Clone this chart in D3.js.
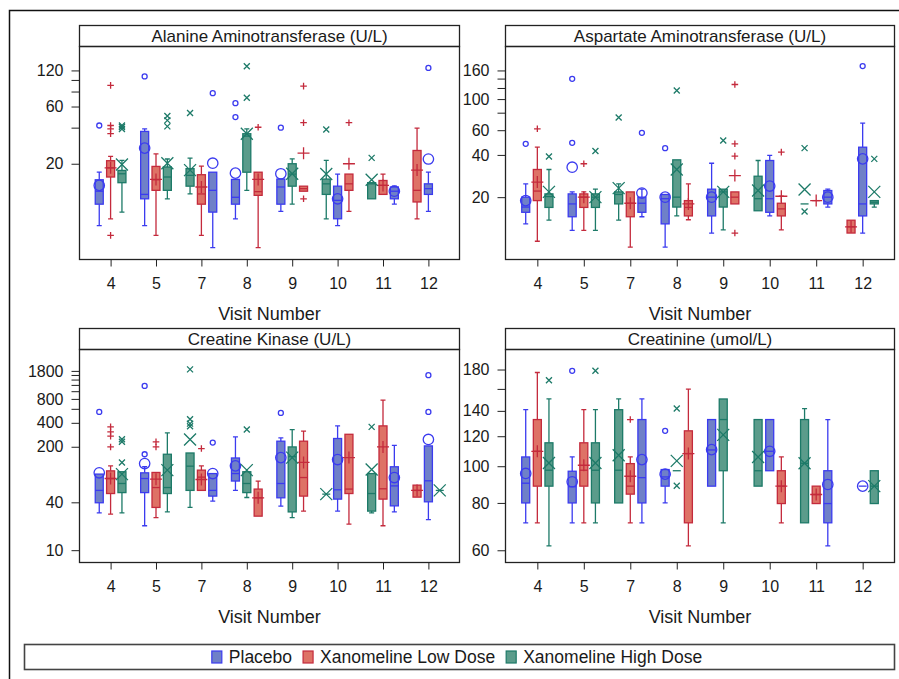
<!DOCTYPE html>
<html>
<head>
<meta charset="utf-8">
<script src="https://cdn.jsdelivr.net/npm/d3@7"></script>
<style>
  body { margin: 0; background: #fff; }
  text { font-family: "Liberation Sans", Arial, sans-serif; fill: #1a1a1a; }
</style>
</head>
<body>
<script>

var visits = ["4", "5", "7", "8", "9", "10", "11", "12"];
var groups = ["Placebo", "Xanomeline Low Dose", "Xanomeline High Dose"];
// order of the groups inside each visit cluster (0 = Placebo, 1 = Low, 2 = High)
var clusterOrder = [[0,1,2], [0,1,2], [2,1,0], [0,2,1], [0,2,1], [2,0,1], [2,1,0], [1,0,2]];

// each entry: [whisker low, Q1, median, Q3, whisker high, mean, [outliers]], null = no data
var altPlacebo = [[6.1,9.2,11.8,14.7,17,13.2,[41.7]], [6.1,10.2,11.1,37.2,39.1,27,[107]], [4,7.9,12,17,17,20.2,[77.6]], [6.95,9.2,10.5,14.8,14.8,16.7,[64,49]],
                  [8,9.2,12.8,14.9,14.9,16.5,[40]], [6.1,6.95,9.9,13,16.4,10.2,[]], [9.2,10.2,11.8,12.8,13,11.8,[]], [8,11.1,12.4,13.6,17,21.9,[126]]];
var altLow = [[6.95,15.5,18.5,21.2,23,18.5,[90,41.7,39.1,35.6,5.05]], [5.05,12,14.7,19,24.2,14.8,[]], [5.05,9.2,11.2,16.2,19.1,12.8,[]], [4,10.9,11.7,17,17,14.8,[40.3]],
              [11.8,11.8,12.4,13,13,24.5,[88.7,44,10.2]], [8,12,13.6,16.4,16.4,20,[44]], [11.1,11.1,13.2,14.5,16.4,13.2,[]], [6.95,9.6,12,25.8,39.6,17.7,[]]];
var altHigh = [[7.9,13.9,16.5,17.6,21.3,19.7,[41.7,40.5,39]], [10.2,12,15.5,18.8,21.9,20.2,[50,46,41]], [11.2,13,16,18.2,22.3,17.7,[53]], [12,17,34,35.6,39,35.6,[130,71]],
               [9.2,13,16.4,20,22,16.5,[]], [6.95,11.1,13.6,14.9,21.3,16.4,[38.6]], [10.2,10.2,13.6,13.9,13.9,14.7,[22.4]], null];

var astPlacebo = [[12.9,15.6,17,20,24.9,18.9,[48]], [11.6,14.5,17.9,21.1,21.8,32.7,[139.5,48.8]], [14.5,15.6,18.1,20,22.8,21.4,[57.5]], [8.8,12.9,19.5,20.9,20.9,20,[44.7]],
                  [11.1,14.7,20,22.8,34.9,20,[]], [14.7,15.6,19.5,36.5,39.7,24,[]], [17,17.9,20,22.3,22.8,20,[]], [11.1,14.7,17.9,45.4,67.4,37.5,[171.8]]];
var astLow = [[9.7,18.9,22.1,31.5,45.4,25.6,[61.4]], [11.6,16.9,20,21.1,21.8,20,[34.6]], [8.8,14.5,18.1,21.8,21.8,18.1,[]], [13.8,14.7,16.9,18.9,24.9,17.9,[]],
              [17.9,17.9,20,21.8,21.8,28.5,[127,48,39.2,11.1]], [11.7,14.7,16.5,18.1,20.3,20.3,[41.9]], [18.9,18.9,18.9,18.9,18.9,18.9,[]], [11.1,11.1,12.3,13.7,13.7,12.3,[]]];
var astHigh = [[13.7,16.9,20.2,21.1,31.5,21.8,[39]], [11.6,16.9,20,21.1,22.8,20,[42.6]], [13.7,17.9,20.9,21.8,24.9,23.2,[74]], [14.7,17,20,36.9,36.9,31.5,[115]],
               [11.7,17,21.8,22.8,22.8,21.8,[50.7]], [16,16,19.5,28.2,36.5,22.3,[]], [17.9,17.9,17.9,17.9,17.9,22.7,[44.7,15.8]], [17,17.9,18.4,18.9,18.9,21.8,[37.5]]];

var ckPlacebo = [[29.5,39.5,56.5,90.6,90.6,94,[549]], [20.3,53,79.7,94,112,123,[1166,161]], [41.4,47.9,56.5,92,92,92,[226]], [56.5,74.1,92,144.5,267,115,[]],
                 [35.8,45.6,69,235,259,146,[533]], [31,43.9,57.5,254,366,138,[]], [30.3,36.1,64.4,112,208,82,[]], [24.3,40.6,74.6,205,205,247,[1590,549]]];
var ckLow = [[28.4,51.6,79.7,99.5,115,79.7,[356,308,272,199]], [25.7,34.5,61.4,95,95,78.3,[231,199]], [56.5,56.5,83,101.6,115,77.5,[190]], [26.8,26.8,45.6,58.7,73.8,45.6,[]],
             [31,47.9,82,235,314,127,[]], [21.3,51.6,58.7,287,287,146,[]], [20.3,43.9,59.2,366,770,199,[]], [46.5,46.5,56.5,65.8,65.8,56.5,[]]];
var ckHigh = [[29.5,53,69,97,97,90.6,[249,231,127]], [30.3,51.6,61.4,161,299,101.6,[]], [34.5,56.5,114,167,167,247,[1880,443,391,363]], [46,53,69,97,97,101.6,[329]],
              [25.7,30.3,150,199,329,146,[]], [50.7,50.7,50.7,50.7,50.7,50.7,[]], [29.5,31,51.6,92,92,103.6,[356]], [56.5,56.5,56.5,56.5,56.5,56.5,[]]];

var crPlacebo = [[70.9,80,90.2,105.8,141,95.7,[]], [70.9,80,88.3,97,105.8,91,[178.6]], [70.9,80,93.3,132.8,150.5,104.1,[]], [80,88.6,93.7,98,98,95.3,[124]],
                 [88.6,88.6,110.4,132.8,132.8,110.6,[]], [97.3,97.3,109.5,132.8,132.8,109.5,[]], [61.6,70.9,79.7,97.3,132.8,89.5,[]], [88.6,88.6,88.6,88.6,88.6,88.6,[]]];
var crLow = [[70.9,88.6,109.5,132.8,176.8,109.5,[]], [70.9,88.6,97.6,115.3,141,100.6,[]], [70.9,84.4,88.6,101.6,105.8,94.1,[132.8]], [61.6,70.9,108,124,159.8,108,[]],
             null, [70.9,79.7,88.6,97.3,105.8,88.6,[]], [79.7,79.7,84.2,88.6,88.6,84.2,[]], null];
var crHigh = [[61.6,88.6,97.6,115.3,150.5,102,[168.7]], [70.9,80,97.6,115.3,141,102,[178.6]], [80,80,97.6,141,150.5,106.9,[]], [97.3,97.3,97.3,97.3,97.3,103.3,[142,88.8]],
              [70.9,97.3,132.8,150.5,150.5,121,[]], [88.6,88.6,97.3,132.8,132.8,105.8,[]], [70.9,70.9,101.8,132.8,142,101.8,[]], [79.7,79.7,88.6,97.3,97.3,88.6,[]]];

var titles = ["Alanine Aminotransferase (U/L)", "Aspartate Aminotransferase (U/L)", "Creatine Kinase (U/L)", "Creatinine (umol/L)"];
var majorTicks = [[20, 60, 120], [20, 40, 60, 100, 160], [10, 40, 200, 400, 800, 1800], [60, 80, 100, 120, 140, 180]];
var minorTicks = [[40, 80, 100], [80, 120, 140], [600, 1000, 1200, 1400, 1600], [160]];
var axisRange = [[3.18, 190], [7.19, 237], [7.0, 3345], [55.7, 203.3]];

var panels = [
  {title: titles[0], data: [altPlacebo, altLow, altHigh]},
  {title: titles[1], data: [astPlacebo, astLow, astHigh]},
  {title: titles[2], data: [ckPlacebo, ckLow, ckHigh]},
  {title: titles[3], data: [crPlacebo, crLow, crHigh]}
];

var lineColor = ["#3b3bef", "#c42a3c", "#1d7a68"];
var fillColor = ["#6f80c8", "#de7266", "#5b9c8b"];
var font = "'Liberation Sans', Arial, sans-serif";

var svgWidth = 899, svgHeight = 679;
var svg = d3.select("body").append("svg").attr("width", svgWidth).attr("height", svgHeight);

// outer frame
svg.append("rect").attr("x", 9.5).attr("y", 10.5).attr("width", svgWidth).attr("height", svgHeight)
    .attr("fill", "none").attr("stroke", "#111").attr("stroke-width", 1.5);

function markerPath(gi, cx, cy, s) {
  if (gi === 1) return "M" + (cx - s) + "," + cy + "H" + (cx + s) + "M" + cx + "," + (cy - s) + "V" + (cy + s);
  return "M" + (cx - s) + "," + (cy - s) + "L" + (cx + s) + "," + (cy + s) + "M" + (cx - s) + "," + (cy + s) + "L" + (cx + s) + "," + (cy - s);
}

panels.forEach(function(p, i) {
  var col = i % 2, row = Math.floor(i / 2);
  var left = col ? 505.5 : 79.5, right = col ? 894.5 : 459.5;
  var top = row ? 328.5 : 25.5, head = 21, bottom = row ? 562.5 : 259.5;

  var x = d3.scalePoint().domain(visits).range([left, right]).padding(0.685);
  var y = d3.scaleLog().domain(axisRange[i]).range([bottom, top + head]);
  var off = x.step() / 4, bw = 8, cap = 2.5;

  var g = svg.append("g");

  // header strip and plot frame
  g.append("rect").attr("x", left).attr("y", top).attr("width", right - left).attr("height", head)
      .attr("fill", "#fff").attr("stroke", "#222").attr("stroke-width", 1.3);
  g.append("text").attr("x", (left + right) / 2).attr("y", top + head / 2 + 5.5)
      .attr("text-anchor", "middle").attr("font-size", 17).text(p.title);
  g.append("rect").attr("x", left).attr("y", top + head).attr("width", right - left).attr("height", bottom - top - head)
      .attr("fill", "none").attr("stroke", "#222").attr("stroke-width", 1.3);

  // axes
  var major = majorTicks[i];
  var yAxis = d3.axisLeft(y).tickValues(major.concat(minorTicks[i])).tickSize(8).tickPadding(8)
      .tickFormat(function(d) { return major.indexOf(d) >= 0 ? d : ""; });
  g.append("g").attr("transform", "translate(" + left + ",0)").call(yAxis)
      .attr("font-family", font).attr("font-size", 16)
      .call(function(a) { a.select(".domain").remove(); a.selectAll("line").attr("stroke", "#222"); });

  var xAxis = d3.axisBottom(x).tickSize(7).tickPadding(11);
  g.append("g").attr("transform", "translate(0," + bottom + ")").call(xAxis)
      .attr("font-family", font).attr("font-size", 16)
      .call(function(a) { a.select(".domain").remove(); a.selectAll("line").attr("stroke", "#222"); });

  g.append("text").attr("x", (left + right) / 2).attr("y", bottom + 60)
      .attr("text-anchor", "middle").attr("font-size", 18).text("Visit Number");

  // flatten the boxes of this panel
  var boxes = [];
  p.data.forEach(function(series, gi) {
    series.forEach(function(s, vi) {
      if (s) boxes.push({gi: gi, visit: visits[vi], slot: clusterOrder[vi].indexOf(gi), s: s});
    });
  });
  var cx = function(b) { return x(b.visit) + (b.slot - 1) * off; };

  var bg = g.selectAll(".box").data(boxes).enter().append("g").attr("class", "box")
      .attr("stroke", function(b) { return lineColor[b.gi]; })
      .attr("stroke-width", 1.3).attr("fill", "none");

  // whiskers
  bg.append("path").attr("d", function(b) {
    var c = cx(b), s = b.s, d = "";
    if (s[0] < s[1]) d += "M" + c + "," + y(s[0]) + "V" + y(s[1]) + "M" + (c - cap) + "," + y(s[0]) + "H" + (c + cap);
    if (s[4] > s[3]) d += "M" + c + "," + y(s[3]) + "V" + y(s[4]) + "M" + (c - cap) + "," + y(s[4]) + "H" + (c + cap);
    return d || null;
  });

  // box
  bg.append("rect")
      .attr("x", function(b) { return cx(b) - bw / 2; })
      .attr("y", function(b) { return y(b.s[3]); })
      .attr("width", bw)
      .attr("height", function(b) { return y(b.s[1]) - y(b.s[3]); })
      .attr("fill", function(b) { return fillColor[b.gi]; });

  // median
  bg.append("path").attr("d", function(b) {
    return "M" + (cx(b) - bw / 2) + "," + y(b.s[2]) + "H" + (cx(b) + bw / 2);
  });

  // mean and outliers
  bg.each(function(b) {
    var sel = d3.select(this), c = cx(b), m = y(b.s[5]);
    if (b.gi === 0) sel.append("circle").attr("cx", c).attr("cy", m).attr("r", 5.2);
    else sel.append("path").attr("d", markerPath(b.gi, c, m, b.gi === 1 ? 6 : 6));
    b.s[6].forEach(function(v) {
      if (b.gi === 0) sel.append("circle").attr("cx", c).attr("cy", y(v)).attr("r", 2.5);
      else sel.append("path").attr("d", markerPath(b.gi, c, y(v), b.gi === 1 ? 3.3 : 3));
    });
  });
});

// legend
svg.append("rect").attr("x", 24.5).attr("y", 644.5).attr("width", 870).attr("height", 25)
    .attr("fill", "#fff").attr("stroke", "#444").attr("stroke-width", 1.6);

var lg = svg.append("g");
var items = lg.selectAll(".item").data(groups).enter().append("g").attr("class", "item");
items.append("rect").attr("x", 0).attr("y", -12).attr("width", 10).attr("height", 12)
    .attr("fill", function(d, k) { return fillColor[k]; })
    .attr("stroke", function(d, k) { return lineColor[k]; }).attr("stroke-width", 1.2);
items.append("text").attr("x", 17).attr("y", 0).attr("font-size", 17.5).text(function(d) { return d; });

var pos = 0, starts = [];
items.each(function() { var w = 17 + d3.select(this).select("text").node().getComputedTextLength(); starts.push(pos); pos += w + 11; });
var total = pos - 11, start = 457 - total / 2;
items.attr("transform", function(d, k) { return "translate(" + (start + starts[k]) + ",663)"; });

</script>
</body>
</html>
